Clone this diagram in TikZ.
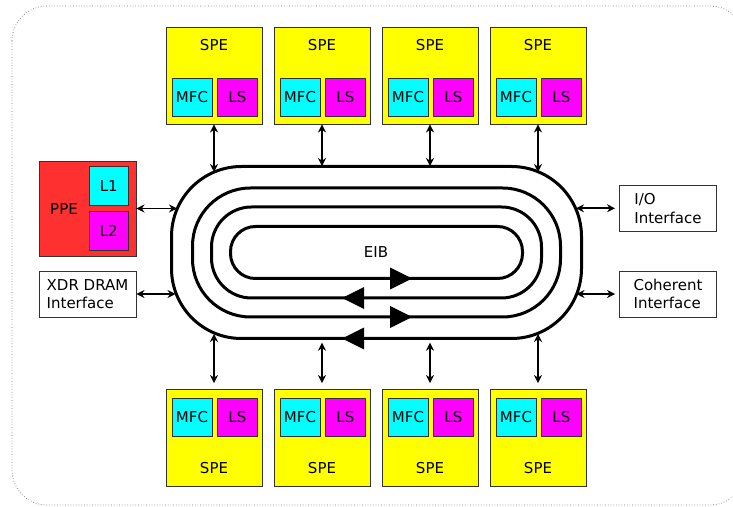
\documentclass[tikz,border=0pt]{standalone}
\usepackage{fontspec}
\setmainfont{DejaVu Sans}
\usepackage{tikz}
\usetikzlibrary{arrows.meta,positioning,calc}
\usepackage{xcolor}
\definecolor{speyellow}{RGB}{255,255,0}
\definecolor{mfccyan}{RGB}{0,255,255}
\definecolor{lsmagenta}{RGB}{255,0,255}
\definecolor{ppered}{RGB}{255,48,48}
\definecolor{boxgray}{RGB}{50,50,50}

\tikzset{
  box/.style={draw=boxgray, line width=0.9pt, inner sep=0pt},
  spebox/.style={box, fill=speyellow, minimum width=96pt, minimum height=97pt},
  mfcbox/.style={box, fill=mfccyan, minimum width=40pt, minimum height=38pt},
  lsbox/.style={box, fill=lsmagenta, minimum width=40pt, minimum height=38pt},
  ppebox/.style={box, fill=ppered, minimum width=97pt, minimum height=95pt},
  cachebox/.style={box, minimum width=39pt, minimum height=39pt},
  ifbox/.style={box, fill=white, minimum width=97pt, minimum height=46pt, align=left},
  ring/.style={line width=3pt},
  bus/.style={{Stealth[length=8pt,width=8pt]}-{Stealth[length=8pt,width=8pt]}, line width=1.8pt}
}

\begin{document}
\begin{tikzpicture}[x=1pt, y=1pt, font=\fontsize{15}{18.5}\selectfont]
\useasboundingbox (0,0) rectangle (733,506);
\draw[black!55, dotted, line width=0.7pt, rounded corners=35pt] (12,500) rectangle (745,1);

% EIB rings
\foreach \w/\h/\r in {205/86/70, 184/64.5/58, 165/45.5/40, 146/26/25}
  \draw[ring, rounded corners=\r pt] (376.5-\w,253.5-\h) rectangle (376.5+\w,253.5+\h);
\foreach \yy/\d in {227.5/1, 208/-1, 189/1, 167.5/-1}
  \fill ({377+13*\d},{\yy+11}) -- ({377+35*\d},\yy) -- ({377+13*\d},{\yy-11}) -- cycle;
\node (eib) at (376,254) {EIB};

% SPEs
\foreach \x [count=\i] in {214,322,430,538} {
  \node[spebox] (spet\i) at (\x,430.5) {};
  \node (spetl\i) at (\x,461) {SPE};
  \node[mfcbox] (mfct\i) at (\x-22,409) {MFC};
  \node[lsbox, right=4.5pt of mfct\i] (lst\i) {LS};
  \node[spebox] (speb\i) at (\x,68) {};
  \node (speblt\i) at (\x,38) {SPE};
  \node[mfcbox] (mfcb\i) at (\x-22,89) {MFC};
  \node[lsbox, right=4.5pt of mfcb\i] (lsb\i) {LS};
}

% PPE and interfaces
\node[ppebox] (ppe) at (87.5,297.5) {};
\node (ppel) at (64,297) {PPE};
\node[cachebox, fill=mfccyan] (l1) at (108.75,320) {L1};
\node[cachebox, fill=lsmagenta, below=5pt of l1] (l2) {L2};
\node[ifbox] (xdr) at (87.5,212) {XDR DRAM\\Interface};
\node[ifbox] (io) at (668,297.7) {I/O\\Interface};
\node[ifbox] (coh) at (668,212) {Coherent\\Interface};

% ring contact points
\coordinate (rt1) at (214,334);
\coordinate (rt2) at (322,340);
\coordinate (rt3) at (430,340);
\coordinate (rt4) at (538,334);
\coordinate (rb1) at (214,172);
\coordinate (rb2) at (322,163.3);
\coordinate (rb3) at (430,163.3);
\coordinate (rb4) at (538,172);
\coordinate (rl1) at (177,297.5);
\coordinate (rl2) at (175.5,212);
\coordinate (rr1) at (576,297.7);
\coordinate (rr2) at (576.5,212);

\foreach \i in {1,...,4} {
  \draw[bus] (spet\i.south) -- (rt\i);
  \draw[bus, shorten >=6pt] (rb\i) -- (speb\i.north);
}
\draw[bus] (ppe.east) -- (rl1);
\draw[bus] (xdr.east) -- (rl2);
\draw[bus, shorten >=4pt] (rr1) -- (io.west);
\draw[bus, shorten >=4pt] (rr2) -- (coh.west);
\end{tikzpicture}
\end{document}
